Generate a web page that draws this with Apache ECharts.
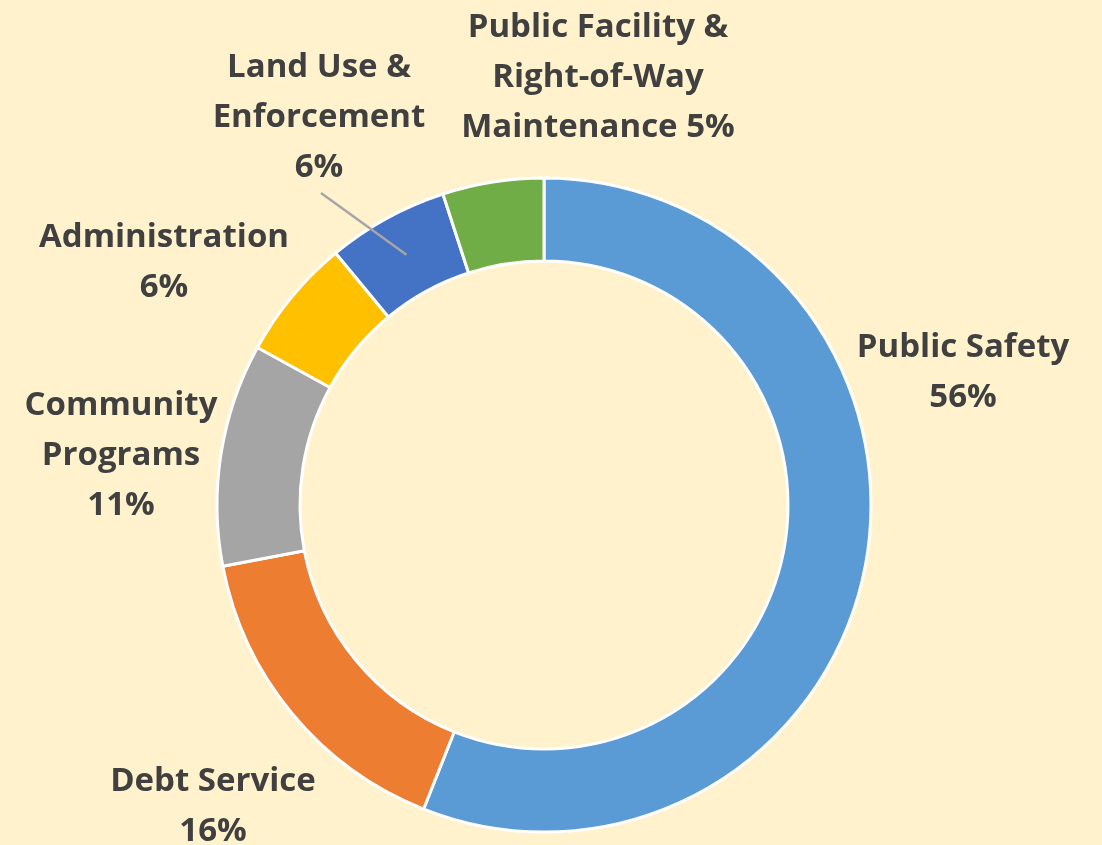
<!DOCTYPE html>
<html>
<head>
<meta charset="utf-8">
<script src="https://cdn.jsdelivr.net/npm/echarts@6/dist/echarts.min.js"></script>
<style>
  html, body { margin: 0; padding: 0; background: #FFF2CC; }
  #main { width: 1102px; height: 845px; }
</style>
</head>
<body>
<div id="main"></div>
<script>
"use strict";

// categorias, en orden horario desde arriba
const categories = [
    'Public Safety',
    'Debt Service',
    'Community\nPrograms',
    'Administration',
    'Land Use &\nEnforcement',
    'Public Facility &\nRight-of-Way\nMaintenance'
];

// porcentaje del presupuesto
const shares = [56, 16, 11, 6, 6, 5];

// colores de cada rebanada
const colors = ['#5B9BD5', '#ED7D31', '#A5A5A5', '#FFC000', '#4472C4', '#70AD47'];

// separador entre nombre y porcentaje
const labelSep = ['\n', '\n', '\n', '\n', '\n', ' '];

// posicion (centro, arriba) de cada etiqueta
const labelPos = [
    [963, 323],
    [213, 757],
    [121, 381],
    [164, 213],
    [319, 43],
    [598, 3]
];

const LINE_H = 50;

const myChart = echarts.init(document.getElementById('main'));

const option = {
    backgroundColor: '#FFF2CC',
    color: colors,
    animation: false,
    series: [{
        type: 'pie',
        center: [544, 505],
        radius: [244, 327],
        startAngle: 90,
        clockwise: true,
        itemStyle: {
            borderColor: '#FFFFFF',
            borderWidth: 3
        },
        label: {
            show: true,
            position: 'outside',
            overflow: 'none',
            fontFamily: 'Open Sans',
            fontWeight: 'bold',
            fontSize: 33,
            lineHeight: LINE_H,
            color: '#404040',
            align: 'center',
            formatter: (p) => p.name + labelSep[p.dataIndex] + Math.round(p.percent) + '%'
        },
        labelLine: { show: false },
        labelLayout: (params) => ({
            x: labelPos[params.dataIndex][0],
            y: labelPos[params.dataIndex][1],
            align: 'center',
            verticalAlign: 'top'
        }),
        data: categories.map((name, i) => ({ name: name, value: shares[i] }))
    }]
};

myChart.setOption(option);

// linea guia de "Land Use & Enforcement": del texto al centro de la rebanada
const LEADER_IDX = 4;
const lay = myChart.getModel().getSeriesByIndex(0).getData().getItemLayout(LEADER_IDX);
const mid = (lay.startAngle + lay.endAngle) / 2;
const rMid = (lay.r + lay.r0) / 2;
myChart.setOption({
    graphic: [{
        type: 'line',
        silent: true,
        z: 100,
        shape: {
            x1: labelPos[LEADER_IDX][0] + 2,
            y1: labelPos[LEADER_IDX][1] + 3 * LINE_H,
            x2: lay.cx + rMid * Math.cos(mid),
            y2: lay.cy + rMid * Math.sin(mid)
        },
        style: { stroke: '#A6A6A6', lineWidth: 2.5 }
    }]
});
</script>
</body>
</html>
